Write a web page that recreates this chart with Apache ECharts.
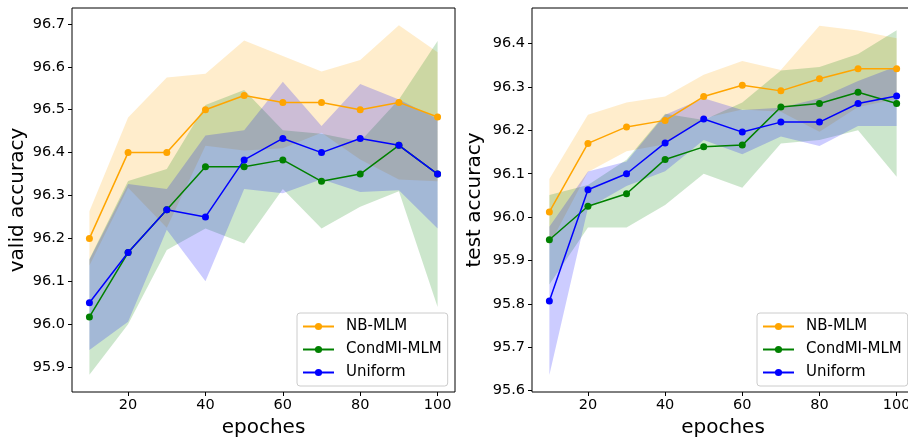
<!DOCTYPE html>
<html>
<head>
<meta charset="utf-8">
<script src="https://cdn.jsdelivr.net/npm/echarts@6/dist/echarts.min.js"></script>
<style>
  html, body { margin: 0; padding: 0; background: #fff; }
  #main { width: 908px; height: 439px; }
</style>
</head>
<body>
<div id="main"></div>
<script>
// epochs and tick labels
const epochs = [10, 20, 30, 40, 50, 60, 70, 80, 90, 100];
const xTicks = [20, 40, 60, 80, 100];
const validTicks = [95.9, 96.0, 96.1, 96.2, 96.3, 96.4, 96.5, 96.6, 96.7];
const testTicks = [95.6, 95.7, 95.8, 95.9, 96.0, 96.1, 96.2, 96.3, 96.4];

// valid accuracy (mean, lower band, upper band)
const validNB = [96.200, 96.400, 96.400, 96.500, 96.533, 96.517, 96.517, 96.500, 96.517, 96.483];
const validNBLo = [96.137, 96.318, 96.225, 96.416, 96.405, 96.410, 96.446, 96.384, 96.337, 96.333];
const validNBHi = [96.263, 96.482, 96.575, 96.584, 96.661, 96.625, 96.589, 96.616, 96.697, 96.634];

const validCM = [96.017, 96.167, 96.267, 96.367, 96.367, 96.383, 96.333, 96.350, 96.417, 96.350];
const validCMLo = [95.882, 96.000, 96.173, 96.223, 96.188, 96.315, 96.223, 96.274, 96.310, 96.040];
const validCMHi = [96.152, 96.334, 96.362, 96.511, 96.546, 96.452, 96.444, 96.426, 96.524, 96.660];

const validUN = [96.050, 96.167, 96.267, 96.250, 96.383, 96.433, 96.400, 96.433, 96.417, 96.350];
const validUNLo = [95.940, 96.006, 96.220, 96.100, 96.315, 96.305, 96.338, 96.308, 96.312, 96.223];
const validUNHi = [96.150, 96.327, 96.315, 96.440, 96.452, 96.565, 96.462, 96.560, 96.524, 96.479];

// test accuracy
const testNB = [96.012, 96.170, 96.208, 96.223, 96.278, 96.304, 96.291, 96.319, 96.342, 96.342];
const testNBLo = [95.936, 96.104, 96.152, 96.168, 96.228, 96.248, 96.243, 96.197, 96.254, 96.272];
const testNBHi = [96.088, 96.236, 96.264, 96.278, 96.328, 96.360, 96.339, 96.441, 96.430, 96.412];

const testCM = [95.948, 96.025, 96.054, 96.133, 96.162, 96.166, 96.254, 96.262, 96.288, 96.262];
const testCMLo = [95.845, 95.976, 95.976, 96.028, 96.100, 96.068, 96.170, 96.178, 96.200, 96.093];
const testCMHi = [96.051, 96.074, 96.132, 96.238, 96.224, 96.264, 96.338, 96.346, 96.376, 96.431];

const testUN = [95.807, 96.063, 96.100, 96.171, 96.226, 96.196, 96.219, 96.219, 96.262, 96.279];
const testUNLo = [95.636, 96.021, 96.072, 96.106, 96.178, 96.145, 96.186, 96.164, 96.210, 96.210];
const testUNHi = [95.978, 96.105, 96.128, 96.236, 96.274, 96.247, 96.252, 96.274, 96.314, 96.348];

const names = ['NB-MLM', 'CondMI-MLM', 'Uniform'];
const colors = ['#ffa500', '#008000', '#0000ff'];
const fills = ['rgba(255,165,0,0.2)', 'rgba(0,128,0,0.2)', 'rgba(0,0,255,0.2)'];
const FONT = 'DejaVu Sans';

const pairs = vals => epochs.map((e, i) => [e, vals[i]]);

// shaded band: one polygon (lower edge forward, upper edge back) through the axis scales
function band(gi, lo, hi, fill) {
  return {
    type: 'custom', xAxisIndex: gi, yAxisIndex: gi, silent: true, z: 1,
    data: epochs.map((e, i) => [e, lo[i], hi[i]]),
    encode: { x: 0, y: [1, 2] },
    renderItem: (params, api) => {
      if (params.dataIndex !== 0) return null;
      const pts = [];
      epochs.forEach((e, i) => pts.push(api.coord([e, lo[i]])));
      for (let i = epochs.length - 1; i >= 0; i--) pts.push(api.coord([epochs[i], hi[i]]));
      return { type: 'polygon', shape: { points: pts }, style: { fill: fill }, silent: true };
    }
  };
}

function line(gi, k, vals) {
  return {
    type: 'line', name: names[k], xAxisIndex: gi, yAxisIndex: gi, data: pairs(vals),
    symbol: 'circle', symbolSize: 7, color: colors[k],
    lineStyle: { color: colors[k], width: 1.5 }, itemStyle: { color: colors[k] }, z: 5
  };
}

function xAxis(gi) {
  return {
    type: 'value', gridIndex: gi, min: 5.5, max: 104.5,
    name: 'epoches', nameLocation: 'middle', nameGap: 22,
    nameTextStyle: { fontFamily: FONT, fontSize: 20, color: '#000' },
    axisLine: { show: false }, splitLine: { show: false },
    axisTick: { show: true, length: 4, lineStyle: { color: '#000' }, customValues: xTicks },
    axisLabel: { fontFamily: FONT, fontSize: 14.5, color: '#000', margin: 6, customValues: xTicks }
  };
}

function yAxis(gi, min, max, ticks, name, gap) {
  return {
    type: 'value', gridIndex: gi, min: min, max: max,
    name: name, nameLocation: 'middle', nameGap: gap,
    nameTextStyle: { fontFamily: FONT, fontSize: 20, color: '#000' },
    axisLine: { show: false }, splitLine: { show: false },
    axisTick: { show: true, length: 4, lineStyle: { color: '#000' }, customValues: ticks },
    axisLabel: {
      fontFamily: FONT, fontSize: 14.5, color: '#000', margin: 7, customValues: ticks,
      formatter: v => v.toFixed(1)
    }
  };
}

function legend(left) {
  return {
    data: names, orient: 'vertical', left: left, top: 313,
    itemWidth: 31, itemHeight: 9, itemGap: 8,
    padding: [6, 6, 6, 5],
    backgroundColor: '#fff', borderColor: '#cccccc', borderWidth: 1, borderRadius: 3,
    textStyle: { fontFamily: FONT, fontSize: 15, color: '#000', lineHeight: 14, padding: [0, 0, 0, 7] },
    selectedMode: false
  };
}

const series = [
  band(0, validNBLo, validNBHi, fills[0]),
  band(0, validCMLo, validCMHi, fills[1]),
  band(0, validUNLo, validUNHi, fills[2]),
  band(1, testNBLo, testNBHi, fills[0]),
  band(1, testCMLo, testCMHi, fills[1]),
  band(1, testUNLo, testUNHi, fills[2]),
  line(0, 0, validNB), line(0, 1, validCM), line(0, 2, validUN),
  line(1, 0, testNB), line(1, 1, testCM), line(1, 2, testUN)
];

const chart = echarts.init(document.getElementById('main'), null, { renderer: 'canvas' });
chart.setOption({
  animation: false,
  backgroundColor: '#fff',
  grid: [
    { left: 72, width: 383, top: 8, height: 384, outerBoundsMode: 'none', containLabel: false,
      show: true, borderColor: '#000', borderWidth: 1 },
    { left: 532, width: 382, top: 8, height: 384, outerBoundsMode: 'none', containLabel: false,
      show: true, borderColor: '#000', borderWidth: 1 }
  ],
  xAxis: [xAxis(0), xAxis(1)],
  yAxis: [
    yAxis(0, 95.842, 96.737, validTicks, 'valid accuracy', 44),
    yAxis(1, 95.597, 96.482, testTicks, 'test accuracy', 47)
  ],
  legend: [legend(297), legend(757)],
  series: series
});
</script>
</body>
</html>
